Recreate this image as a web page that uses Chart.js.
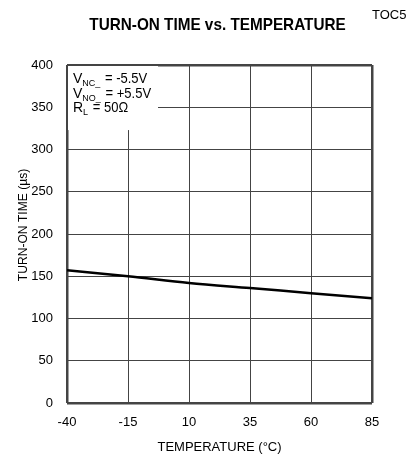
<!DOCTYPE html>
<html>
<head>
<meta charset="utf-8">
<script src="https://cdn.jsdelivr.net/npm/chart.js@4"></script>
<style>
  html, body { margin: 0; padding: 0; background: #fff; }
  #wrap { width: 412px; height: 458px; }
</style>
</head>
<body>
<div id="wrap"><canvas id="toc5"></canvas></div>
<script>
// data
const temps = [-40, -15, 10, 35, 60, 85];
const turnOnTimes = [157, 150, 142, 136, 130, 124];
const xTicks = [-40, -15, 10, 35, 60, 85];
const yTicks = [0, 50, 100, 150, 200, 250, 300, 350, 400];
const conditions = [
    ['V', 'NC_', ' = -5.5V'],
    ['V', 'NO_', ' = +5.5V'],
    ['R', 'L', ' = 50\u03A9']
];

const FONT = '"Liberation Sans Narrow", "Liberation Sans", Arial, sans-serif';

// draw text squeezed horizontally (the original uses a narrow face)
function narrowText(ctx, text, x, y, squeeze) {
    ctx.save();
    ctx.translate(x, y);
    ctx.scale(squeeze, 1);
    ctx.fillText(text, 0, 0);
    ctx.restore();
}

// title, TOC label, y title and the conditions box
const textPlugin = {
    id: 'textPlugin',
    beforeDatasetsDraw(chart) {
        const ctx = chart.ctx;
        const x = chart.scales.x, y = chart.scales.y;
        const area = chart.chartArea;
        ctx.save();
        // white box over the grid, top-left corner
        ctx.fillStyle = '#fff';
        const bx = x.getPixelForValue(-2.7), by = y.getPixelForValue(323);
        ctx.fillRect(area.left + 1, area.top + 1, bx - area.left - 1, by - area.top - 1);

        ctx.fillStyle = '#000';
        ctx.textBaseline = 'alphabetic';
        ctx.textAlign = 'left';
        conditions.forEach((c, i) => {
            const base = 83 + i * 14.5;
            let px = 73;
            ctx.font = '14px ' + FONT;
            ctx.fillText(c[0], px, base);
            px += ctx.measureText(c[0]).width;
            ctx.font = '9px ' + FONT;
            ctx.fillText(c[1], px, base + 3);
            px += ctx.measureText(c[1]).width + 1;
            ctx.font = '14px ' + FONT;
            narrowText(ctx, c[2], px, base, 0.93);
        });
        ctx.restore();
    },
    afterDraw(chart) {
        const ctx = chart.ctx;
        ctx.save();
        ctx.fillStyle = '#000';
        ctx.textBaseline = 'alphabetic';
        ctx.textAlign = 'center';
        ctx.font = 'bold 17px ' + FONT;
        narrowText(ctx, 'TURN-ON TIME vs. TEMPERATURE', 217.5, 30, 0.9);
        ctx.textAlign = 'left';
        ctx.font = '13px ' + FONT;
        ctx.fillText('TOC5', 372, 19);

        // y axis title
        ctx.save();
        ctx.translate(27, 225);
        ctx.rotate(-Math.PI / 2);
        ctx.textAlign = 'center';
        ctx.font = '13px ' + FONT;
        narrowText(ctx, 'TURN-ON TIME (\u00B5s)', 0, 0, 0.93);
        ctx.restore();
        ctx.restore();
    }
};

document.addEventListener('DOMContentLoaded', function () {
    const ctx = document.getElementById('toc5').getContext('2d');
    new Chart(ctx, {
        type: 'line',
        data: {
            datasets: [{
                data: temps.map((t, i) => ({ x: t, y: turnOnTimes[i] })),
                borderColor: '#000',
                borderWidth: 2.5,
                pointRadius: 0,
                cubicInterpolationMode: 'monotone',
                fill: false
            }]
        },
        options: {
            responsive: true,
            maintainAspectRatio: false,
            animation: false,
            events: [],
            layout: { padding: { top: 65, right: 40, left: 0, bottom: 0 } },
            plugins: {
                legend: { display: false },
                tooltip: { enabled: false }
            },
            scales: {
                x: {
                    type: 'linear',
                    min: -40,
                    max: 85,
                    afterBuildTicks: axis => { axis.ticks = xTicks.map(v => ({ value: v })); },
                    afterFit: axis => { axis.height = 55; },
                    border: { display: false },
                    grid: {
                        color: '#444',
                        lineWidth: c => (c.index === 0 || c.index === xTicks.length - 1) ? 2.5 : 1,
                        drawTicks: false
                    },
                    ticks: {
                        color: '#000',
                        padding: 12,
                        font: { family: FONT, size: 13 }
                    },
                    title: {
                        display: true,
                        text: 'TEMPERATURE (\u00B0C)',
                        color: '#000',
                        padding: { top: 0, bottom: 3 },
                        font: { family: FONT, size: 13 }
                    }
                },
                y: {
                    type: 'linear',
                    min: 0,
                    max: 400,
                    afterBuildTicks: axis => { axis.ticks = yTicks.map(v => ({ value: v })); },
                    afterFit: axis => { axis.width = 67; },
                    border: { display: false },
                    grid: {
                        color: '#444',
                        lineWidth: c => (c.index === 0 || c.index === yTicks.length - 1) ? 2.5 : 1,
                        drawTicks: false
                    },
                    ticks: {
                        color: '#000',
                        padding: 14,
                        font: { family: FONT, size: 13 }
                    }
                }
            }
        },
        plugins: [textPlugin]
    });
});
</script>
</body>
</html>
